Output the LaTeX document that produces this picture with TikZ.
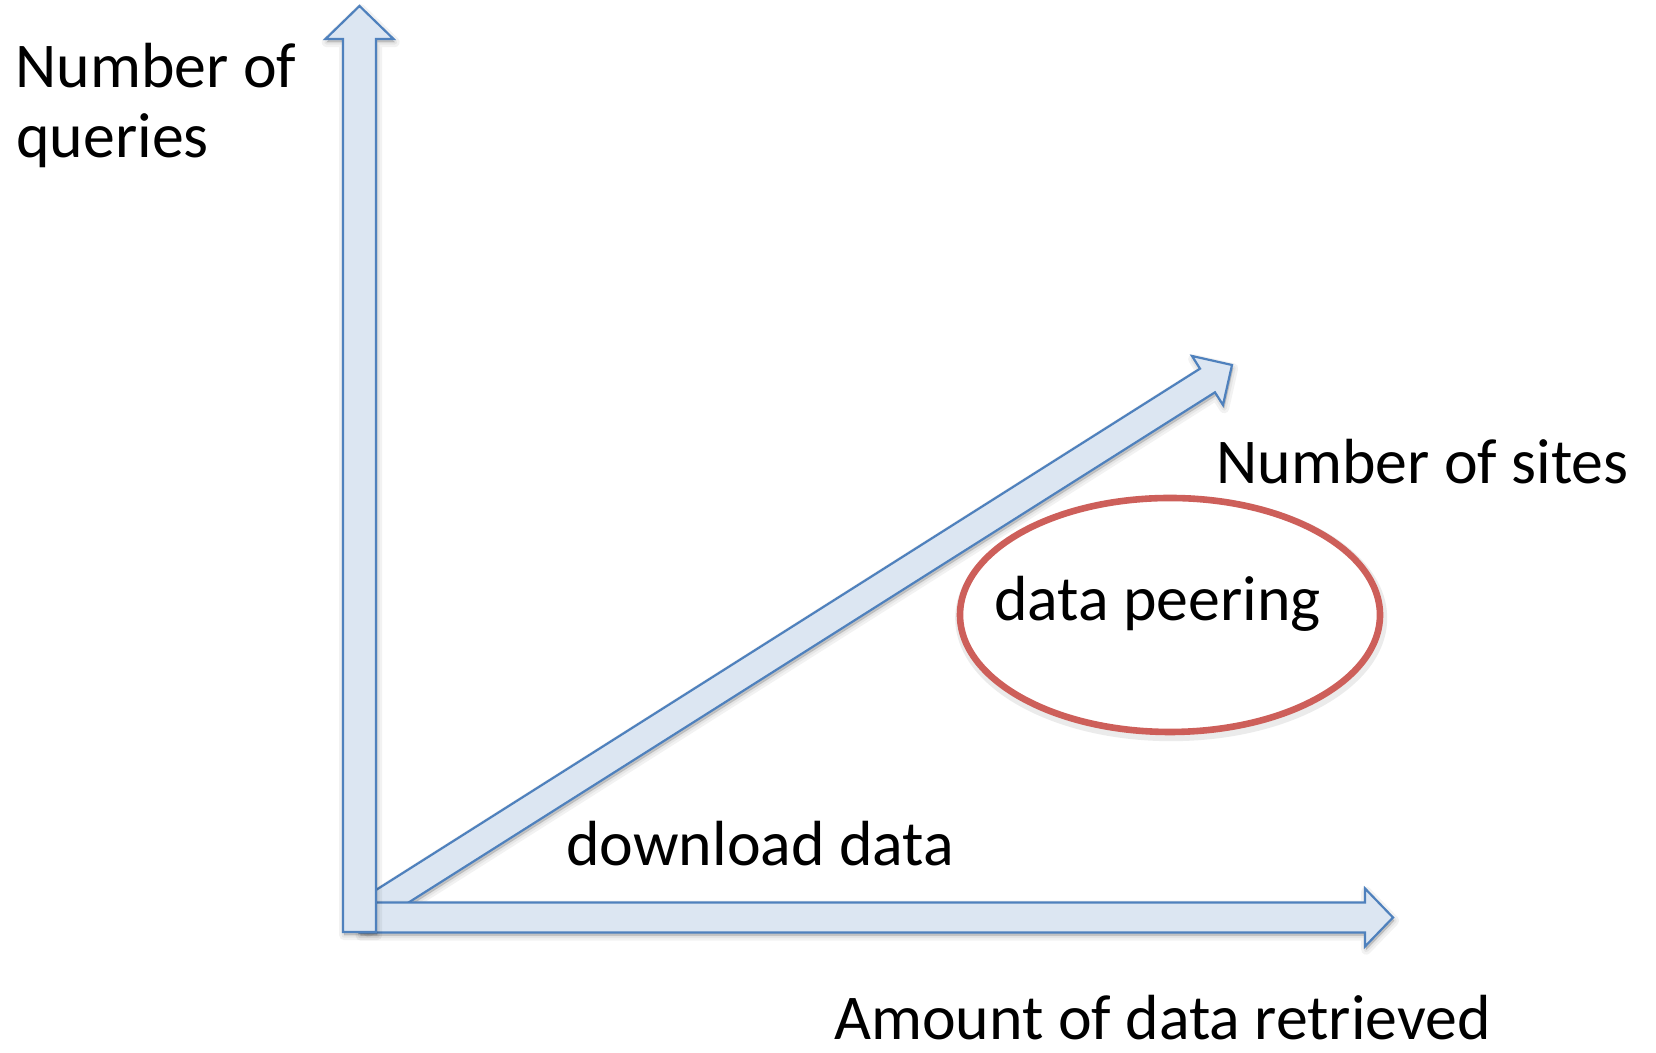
\documentclass[tikz,border=0pt]{standalone}
\usepackage{fontspec}
\setmainfont{Carlito}
\usetikzlibrary{calc,shapes.geometric}
\definecolor{axisfill}{HTML}{DCE6F2}
\definecolor{axisline}{HTML}{4F81BD}
\definecolor{ringred}{HTML}{CD5F5A}
\tikzset{
  axisarrow/.style={fill=axisfill, draw=axisline, line width=1.1pt, line join=miter},
  softshadow/.style={fill=black, draw=black, opacity=0.05, line width=#1, line join=round},
  axislabel/.style={anchor=base west, inner sep=0pt, font=\fontsize{31.9}{38}\selectfont},
  ring/.style={ellipse, draw=ringred, line width=3.3pt, minimum width=210pt, minimum height=117pt, inner sep=0pt},
}
% block arrow from a tail point to a tip point:
% #1 style, #2 tail, #3 tip, #4 shaft half width, #5 head half width, #6 head length
\newcommand\blockarrow[6]{%
  \coordinate (hb) at ($(#3)!#6!(#2)$);
  \path[#1] ($(#2)!#4!-90:(#3)$) -- ($(hb)!#4!90:(#2)$) -- ($(hb)!#5!90:(#2)$) -- (#3)
    -- ($(hb)!#5!-90:(#2)$) -- ($(hb)!#4!-90:(#2)$) -- ($(#2)!#4!90:(#3)$) -- cycle;
}
% the same arrow with a soft drop shadow underneath
\newcommand\shadedarrow[5]{%
  \begin{scope}[transform canvas={shift={(0.6pt,-1.6pt)}}]
    \blockarrow{softshadow=5pt}{#1}{#2}{#3}{#4}{#5}
    \blockarrow{softshadow=2.5pt}{#1}{#2}{#3}{#4}{#5}
    \blockarrow{softshadow=0.5pt}{#1}{#2}{#3}{#4}{#5}
  \end{scope}
  \blockarrow{axisarrow}{#1}{#2}{#3}{#4}{#5}
}
\begin{document}
\begin{tikzpicture}[x=0.5pt, y=0.5pt]
  \useasboundingbox[fill=white] (0,0) rectangle (1656,1053);

  % axis end points
  \coordinate (vtail) at (359.5,121);
  \coordinate (vtip)  at (359.5,1047);
  \coordinate (htail) at (359.5,135.5);
  \coordinate (htip)  at (1393,135.5);
  \coordinate (dtail) at (359.5,136);
  \coordinate (dtip)  at (1232,688);

  % diagonal axis lies behind the other two
  \shadedarrow{dtail}{dtip}{7pt}{14.5pt}{14.5pt}
  \shadedarrow{htail}{htip}{7.5pt}{14.5pt}{14pt}
  \shadedarrow{vtail}{vtip}{8.25pt}{17pt}{16.5pt}

  % highlighted region
  \begin{scope}[transform canvas={shift={(0.6pt,-1.6pt)}}]
    \node[ring, draw=black, draw opacity=0.08, line width=6pt] (peershadow) at (1170,438) {};
  \end{scope}
  \node[ring, fill=white] (peer) at (1170,438) {};

  % labels
  \node[axislabel] (ylab1) at (15,965) {Number of};
  \node[axislabel] (ylab2) at (16,895) {queries};
  \node[axislabel] (zlab)  at (1216,569) {Number of sites};
  \node[axislabel] (xlab)  at (834,13) {Amount of data retrieved};
  \node[axislabel] (dl)    at (566,187) {download data};
  \node[axislabel] (dp)    at (994,432) {data peering};
\end{tikzpicture}
\end{document}
